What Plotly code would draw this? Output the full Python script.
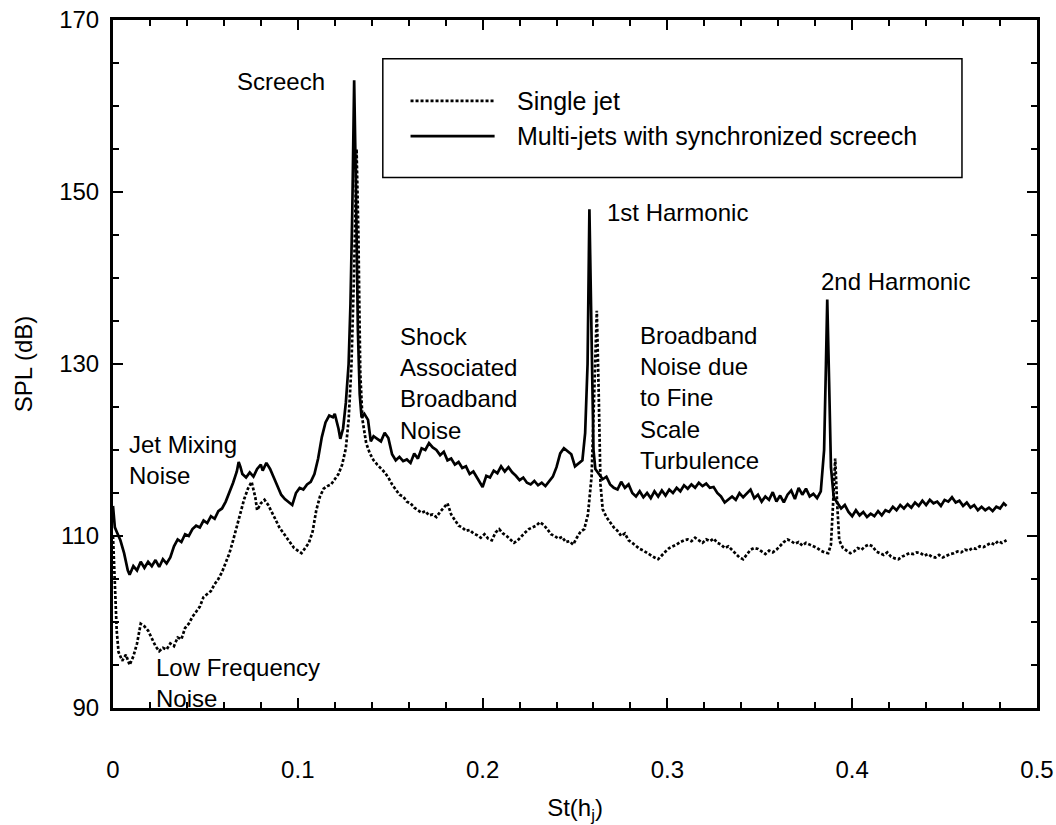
import plotly.graph_objects as go

# ---- data: Strouhal number St(h_j) and SPL (dB) ----
multi_st = [0.000, 0.001, 0.002, 0.004, 0.006, 0.008, 0.009, 0.011, 0.013, 0.015, 0.017, 0.019, 0.021, 0.023, 0.025,
            0.027, 0.029, 0.031, 0.033, 0.035, 0.037, 0.039, 0.041, 0.043, 0.045, 0.047, 0.049, 0.051, 0.053, 0.055,
            0.057, 0.059, 0.061, 0.063, 0.065, 0.067, 0.068, 0.069, 0.070, 0.072, 0.074, 0.076, 0.078, 0.080, 0.081,
            0.083, 0.085, 0.087, 0.089, 0.091, 0.093, 0.095, 0.097, 0.099, 0.101, 0.103, 0.105, 0.107, 0.109, 0.111,
            0.113, 0.115, 0.117, 0.119, 0.120, 0.122, 0.123, 0.1245, 0.126, 0.1275, 0.1285, 0.1295, 0.1305, 0.1315,
            0.1325, 0.1335, 0.1345, 0.136, 0.138, 0.1395, 0.141, 0.143, 0.145, 0.147, 0.149, 0.151, 0.153, 0.155,
            0.157, 0.159, 0.161, 0.163, 0.165, 0.167, 0.169, 0.171, 0.173, 0.175, 0.177, 0.179, 0.181, 0.183, 0.185,
            0.187, 0.189, 0.191, 0.193, 0.195, 0.197, 0.199, 0.200, 0.202, 0.204, 0.206, 0.208, 0.210, 0.212, 0.214,
            0.216, 0.218, 0.220, 0.222, 0.224, 0.226, 0.228, 0.230, 0.232, 0.234, 0.236, 0.238, 0.240, 0.242, 0.244,
            0.246, 0.248, 0.250, 0.252, 0.254, 0.2555, 0.2568, 0.2578, 0.2588, 0.260, 0.261, 0.263, 0.265, 0.267,
            0.269, 0.271, 0.273, 0.275, 0.277, 0.279, 0.281, 0.283, 0.285, 0.287, 0.289, 0.291, 0.293, 0.295, 0.297,
            0.299, 0.301, 0.303, 0.305, 0.307, 0.309, 0.311, 0.313, 0.315, 0.317, 0.319, 0.321, 0.323, 0.325, 0.327,
            0.329, 0.331, 0.333, 0.335, 0.337, 0.339, 0.341, 0.343, 0.345, 0.347, 0.349, 0.351, 0.353, 0.355, 0.357,
            0.359, 0.361, 0.363, 0.365, 0.367, 0.369, 0.371, 0.373, 0.375, 0.377, 0.379, 0.381, 0.383, 0.3848, 0.3858,
            0.3865, 0.3875, 0.3885, 0.390, 0.392, 0.394, 0.396, 0.398, 0.400, 0.402, 0.404, 0.406, 0.408, 0.410,
            0.412, 0.414, 0.416, 0.418, 0.420, 0.422, 0.424, 0.426, 0.428, 0.430, 0.432, 0.434, 0.436, 0.438, 0.440,
            0.442, 0.444, 0.446, 0.448, 0.450, 0.452, 0.454, 0.456, 0.458, 0.460, 0.462, 0.464, 0.466, 0.468, 0.470,
            0.472, 0.474, 0.476, 0.478, 0.480, 0.482, 0.4835]
multi_spl = [113.5, 111.0, 110.5, 109.5, 108.0, 106.0, 105.5, 106.5, 106.0, 107.0, 106.3, 107.0, 106.5, 107.2, 106.4,
             107.3, 106.8, 107.5, 108.8, 109.6, 109.3, 110.2, 110.0, 110.8, 111.2, 111.0, 111.8, 111.5, 112.3, 112.0,
             112.9, 113.2, 114.0, 115.0, 116.2, 117.5, 118.6, 118.0, 117.2, 116.8, 117.4, 116.9, 117.8, 118.3, 117.6,
             118.5, 117.8, 116.8, 115.8, 114.8, 114.3, 114.0, 113.6, 115.0, 115.6, 115.4, 116.0, 116.3, 117.2, 119.0,
             121.5, 123.2, 124.0, 123.8, 124.2, 122.5, 121.3, 122.5, 125.5, 130.0, 137.0, 148.0, 163.0, 150.0,
             134.0, 126.5, 123.8, 124.2, 123.5, 121.0, 121.6, 121.3, 121.0, 122.0, 121.4, 119.5, 118.8, 119.2,
             118.7, 118.9, 118.5, 119.6, 119.0, 120.2, 120.0, 120.8, 120.3, 120.0, 119.4, 119.8, 118.8, 119.0, 118.3,
             118.6, 117.9, 118.1, 117.2, 117.5, 116.8, 116.2, 115.7, 117.0, 116.8, 117.6, 117.3, 118.1, 117.5, 118.0,
             117.4, 117.0, 116.5, 116.8, 116.2, 116.0, 116.4, 115.9, 116.2, 115.8, 116.3, 116.9, 118.0, 119.6, 120.2,
             119.8, 119.5, 118.1, 118.5, 118.8, 122.0, 130.0, 148.0, 133.0, 120.0, 117.8, 117.2, 116.6, 116.9,
             116.0, 115.6, 115.4, 116.3, 115.6, 116.0, 115.0, 114.6, 115.2, 114.5, 115.0, 114.4, 115.2, 114.6, 115.3,
             114.7, 115.4, 115.0, 115.6, 115.2, 115.9, 115.5, 116.0, 115.6, 116.2, 115.8, 116.1, 115.6, 115.7, 115.0,
             114.6, 113.9, 114.3, 114.6, 114.2, 115.0, 114.5, 114.9, 115.4, 114.4, 114.8, 114.0, 114.6, 114.2, 115.1,
             114.0, 114.7, 113.9, 114.8, 115.3, 114.3, 115.6, 114.8, 115.5, 114.6, 114.9, 114.4, 115.2, 120.0, 130.0,
             137.5, 128.0, 118.0, 114.5, 113.8, 113.2, 113.6, 112.8, 112.3, 113.0, 112.4, 112.8, 112.2, 112.6,
             112.3, 112.9, 112.4, 113.0, 112.8, 113.4, 113.0, 113.6, 113.2, 113.7, 113.3, 113.9, 113.5, 114.1, 113.6,
             114.2, 113.8, 114.0, 113.5, 114.2, 114.0, 114.5, 113.9, 114.1, 113.5, 113.9, 113.3, 113.6, 113.0, 113.4,
             113.0, 113.3, 112.9, 113.4, 113.2, 113.8, 113.5]

single_st = [0.000, 0.001, 0.002, 0.003, 0.005, 0.007, 0.009, 0.011, 0.013, 0.015, 0.017, 0.019, 0.021, 0.023, 0.025,
             0.027, 0.029, 0.031, 0.033, 0.035, 0.037, 0.039, 0.041, 0.043, 0.045, 0.047, 0.049, 0.051, 0.053, 0.055,
             0.057, 0.059, 0.061, 0.063, 0.065, 0.067, 0.069, 0.071, 0.073, 0.075, 0.077, 0.078, 0.080, 0.082, 0.084,
             0.086, 0.088, 0.090, 0.092, 0.094, 0.096, 0.098, 0.100, 0.102, 0.104, 0.106, 0.108, 0.110, 0.112, 0.114,
             0.116, 0.118, 0.120, 0.122, 0.124, 0.126, 0.1275, 0.129, 0.1305, 0.1318, 0.1328, 0.1338, 0.135, 0.137,
             0.139, 0.141, 0.143, 0.145, 0.147, 0.149, 0.151, 0.153, 0.155, 0.157, 0.159, 0.161, 0.163, 0.165, 0.167,
             0.169, 0.171, 0.173, 0.175, 0.177, 0.179, 0.181, 0.183, 0.185, 0.187, 0.189, 0.191, 0.193, 0.195, 0.197,
             0.199, 0.201, 0.203, 0.205, 0.207, 0.209, 0.211, 0.213, 0.215, 0.217, 0.219, 0.221, 0.223, 0.225, 0.227,
             0.229, 0.231, 0.233, 0.235, 0.237, 0.239, 0.241, 0.243, 0.245, 0.247, 0.249, 0.251, 0.253, 0.255, 0.257,
             0.259, 0.2605, 0.2618, 0.2628, 0.2638, 0.265, 0.267, 0.269, 0.271, 0.273, 0.275, 0.277, 0.279, 0.281,
             0.283, 0.285, 0.287, 0.289, 0.291, 0.293, 0.295, 0.297, 0.299, 0.301, 0.303, 0.305, 0.307, 0.309, 0.311,
             0.313, 0.315, 0.317, 0.319, 0.321, 0.323, 0.325, 0.327, 0.329, 0.331, 0.333, 0.335, 0.337, 0.339, 0.341,
             0.343, 0.345, 0.347, 0.349, 0.351, 0.353, 0.355, 0.357, 0.359, 0.361, 0.363, 0.365, 0.367, 0.369, 0.371,
             0.373, 0.375, 0.377, 0.379, 0.381, 0.383, 0.385, 0.387, 0.3885, 0.3897, 0.3908, 0.3918, 0.393, 0.395,
             0.397, 0.399, 0.401, 0.403, 0.405, 0.407, 0.409, 0.411, 0.413, 0.415, 0.417, 0.419, 0.421, 0.423, 0.425,
             0.427, 0.429, 0.431, 0.433, 0.435, 0.437, 0.439, 0.441, 0.443, 0.445, 0.447, 0.449, 0.451, 0.453, 0.455,
             0.457, 0.459, 0.461, 0.463, 0.465, 0.467, 0.469, 0.471, 0.473, 0.475, 0.477, 0.479, 0.481, 0.4835]
single_spl = [110.0, 104.0, 99.0, 96.5, 95.5, 96.2, 95.0, 96.0, 97.5, 99.8, 99.5, 99.0, 98.0, 97.2, 96.6,
              97.0, 96.8, 97.5, 97.2, 98.2, 98.0, 99.3, 99.8, 100.6, 101.2, 101.8, 102.9, 103.2, 103.6, 104.4,
              105.0, 105.8, 106.8, 108.0, 109.5, 111.2, 112.6, 114.3, 115.5, 116.3, 114.5, 113.0, 113.8, 114.2, 113.6,
              112.8, 111.9, 111.0, 110.4, 109.8, 109.3, 108.6, 108.3, 108.0, 108.6, 109.2, 110.5, 113.0, 114.6, 115.5,
              115.8, 116.0, 116.6, 117.2, 118.3, 120.2, 123.5, 129.7, 141.0, 155.0, 145.0, 129.0, 123.5, 120.8,
              119.6, 118.8, 118.3, 117.9, 117.4, 116.8, 116.0, 115.4, 114.8, 114.6, 114.0, 113.8, 113.3, 113.0, 112.7,
              112.9, 112.4, 112.5, 112.2, 112.8, 113.3, 113.8, 112.5, 111.9, 111.2, 111.0, 110.6, 110.7, 110.3, 110.1,
              109.8, 110.2, 109.7, 109.5, 110.4, 110.8, 110.3, 110.0, 109.6, 109.2, 109.5, 110.0, 110.4, 110.8, 111.0,
              111.2, 111.6, 111.3, 110.8, 110.2, 110.0, 109.7, 109.9, 109.3, 109.4, 109.0, 109.8, 110.5, 110.8, 112.5,
              117.0, 127.0, 136.2, 127.0, 116.0, 113.1, 112.2, 111.6, 111.0, 110.6, 110.0, 110.3, 109.5, 109.2,
              108.8, 108.5, 108.3, 108.0, 107.8, 107.5, 107.3, 107.8, 108.2, 108.6, 108.8, 109.0, 109.3, 109.5, 109.6,
              109.4, 109.8, 109.5, 109.2, 109.6, 109.4, 109.7, 109.2, 109.0, 108.6, 108.8, 108.4, 108.0, 107.5, 107.3,
              107.8, 108.4, 108.6, 108.5, 108.2, 107.9, 108.3, 108.1, 108.4, 108.9, 109.3, 109.6, 109.4, 109.1, 109.3,
              108.9, 109.2, 109.0, 108.8, 108.6, 108.3, 108.1, 108.0, 109.0, 114.0, 119.0, 114.0, 109.5, 108.6,
              108.3, 108.0, 108.2, 108.6, 108.4, 108.8, 109.0, 108.8, 108.2, 108.0, 107.8, 108.1, 107.6, 107.4, 107.3,
              107.6, 107.8, 108.0, 107.9, 108.1, 108.0, 107.7, 107.9, 107.6, 107.5, 107.8, 107.5, 107.7, 107.9, 108.0,
              108.2, 108.1, 108.4, 108.3, 108.6, 108.5, 108.8, 108.7, 109.0, 109.2, 109.0, 109.4, 109.2, 109.5]

x_tickvals = [0, 0.1, 0.2, 0.3, 0.4, 0.5]
x_ticktext = ["0", "0.1", "0.2", "0.3", "0.4", "0.5"]
y_tickvals = [90, 110, 130, 150, 170]
y_ticktext = ["90", "110", "130", "150", "170"]

series_names = ["Single jet", "Multi-jets with synchronized screech"]

# annotation texts (lines of each block) with the block's left edge and vertical centre (St, dB)
notes = [
    (["Screech"], 0.066, 162.8),
    (["1st Harmonic"], 0.266, 147.6),
    (["2nd Harmonic"], 0.382, 139.6),
    (["Shock", "Associated", "Broadband", "Noise"], 0.154, 127.7),
    (["Broadband", "Noise due", "to Fine", "Scale", "Turbulence"], 0.284, 126.1),
    (["Jet Mixing", "Noise"], 0.0075, 118.8),
    (["Low Frequency", "Noise"], 0.022, 92.9),
]

FONT = "Liberation Sans, Arial, Helvetica, sans-serif"
DOT = "3px,2px"

fig = go.Figure()
fig.add_trace(go.Scatter(x=single_st, y=single_spl, mode="lines", name=series_names[0],
                         line=dict(color="black", width=2.7, dash=DOT), showlegend=False))
fig.add_trace(go.Scatter(x=multi_st, y=multi_spl, mode="lines", name=series_names[1],
                         line=dict(color="black", width=2.7), showlegend=False))

annotations = []
for lines, xx, yy in notes:
    annotations.append(dict(x=xx, y=yy, xref="x", yref="y", text="<br>".join(lines), showarrow=False,
                            xanchor="left", yanchor="middle", align="left",
                            font=dict(size=24, color="black", family=FONT)))

# legend (box, line samples, labels)
leg_x0, leg_x1, leg_y0, leg_y1 = 0.146, 0.4594, 151.7, 165.5
sample_x0, sample_x1 = 0.161, 0.2065
row_y = [160.6, 156.5]
shapes = [
    dict(type="rect", xref="x", yref="y", x0=leg_x0, x1=leg_x1, y0=leg_y0, y1=leg_y1,
         line=dict(color="black", width=1.5), fillcolor="white", layer="above"),
    dict(type="line", xref="x", yref="y", x0=sample_x0, x1=sample_x1, y0=row_y[0], y1=row_y[0],
         line=dict(color="black", width=2.7, dash=DOT), layer="above"),
    dict(type="line", xref="x", yref="y", x0=sample_x0, x1=sample_x1, y0=row_y[1], y1=row_y[1],
         line=dict(color="black", width=2.7), layer="above"),
]
for name, yy in zip(series_names, row_y):
    annotations.append(dict(x=0.2175, y=yy, xref="x", yref="y", text=name, showarrow=False,
                            xanchor="left", yanchor="middle", font=dict(size=25, color="black", family=FONT)))

axis_common = dict(showline=True, linecolor="black", linewidth=3, mirror="ticks", ticks="inside",
                   tickcolor="black", tickwidth=2, ticklen=10, showgrid=False, zeroline=False,
                   automargin=False, tickfont=dict(size=24, color="black", family=FONT))

fig.update_layout(
    width=1056, height=825,
    margin=dict(l=113, r=19, t=20, b=117, autoexpand=False),
    paper_bgcolor="white", plot_bgcolor="white",
    font=dict(family=FONT, color="black"),
    xaxis=dict(range=[0, 0.5], tickvals=x_tickvals, ticktext=x_ticktext,
               minor=dict(dtick=0.02, tick0=0, ticks="inside", ticklen=6, tickwidth=1.5, tickcolor="black"),
               title=dict(text="St(h<sub>j</sub>)", font=dict(size=24, family=FONT), standoff=24),
               ticklabelstandoff=38, **axis_common),
    yaxis=dict(range=[90, 170], tickvals=y_tickvals, ticktext=y_ticktext,
               minor=dict(dtick=5, tick0=90, ticks="inside", ticklen=6, tickwidth=1.5, tickcolor="black"),
               title=dict(text="SPL (dB)", font=dict(size=24, family=FONT), standoff=20),
               ticklabelstandoff=6, **axis_common),
    annotations=annotations,
    shapes=shapes,
)

fig.write_html("out.html")
